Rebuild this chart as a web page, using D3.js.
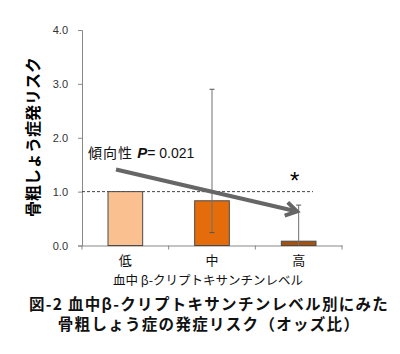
<!DOCTYPE html>
<html>
<head>
<meta charset="utf-8">
<script src="https://cdn.jsdelivr.net/npm/d3@7"></script>
<style>
  body { margin: 0; background: #fff; }
  text { font-family: "Noto Sans CJK JP", "DejaVu Sans", sans-serif; }
</style>
</head>
<body>
<svg id="chart" width="400" height="354"></svg>
<script>
const categories = ['低', '中', '高'];
const oddsRatio = [1.0, 0.83, 0.08];
const ciLow = [null, 0.24, 0];
const ciHigh = [null, 2.90, 0.75];
const barColors = ['#fac090', '#e46c0a', '#a5520c'];
const yTicks = [0, 1, 2, 3, 4];

const svg = d3.select('#chart');

const x = d3.scaleBand()
  .domain(categories)
  .range([82, 342])
  .paddingInner(0.6)
  .paddingOuter(0.3);

const y = d3.scaleLinear()
  .domain([0, 4])
  .range([245.5, 30]);

// y axis
const yAxis = svg.append('g')
  .attr('transform', 'translate(82,0)')
  .call(d3.axisLeft(y).tickValues(yTicks).tickSize(4).tickFormat(d3.format('.1f')));
yAxis.select('.domain').attr('stroke', '#888');
yAxis.selectAll('.tick line').attr('stroke', '#888');
yAxis.selectAll('.tick text')
  .attr('x', -14)
  .attr('fill', '#333')
  .style('font-family', 'Liberation Sans, Arial, sans-serif')
  .style('font-size', '11px');

// x axis
const xAxis = svg.append('g')
  .attr('transform', `translate(0,${y(0)})`)
  .call(d3.axisBottom(x).tickSize(0).tickFormat(''));
xAxis.select('.domain').attr('stroke', '#888');
xAxis.selectAll('.tick').remove();
const edges = [82].concat(categories.map(c => x(c) + x.bandwidth() + x.step() * x.paddingInner() / 2));
svg.selectAll('.xtick')
  .data(edges)
  .join('line')
  .attr('x1', d => d).attr('x2', d => d)
  .attr('y1', y(0)).attr('y2', y(0) + 4)
  .attr('stroke', '#888');

// reference line at 1.0
svg.append('line')
  .attr('x1', 82).attr('x2', 313)
  .attr('y1', y(1)).attr('y2', y(1))
  .attr('stroke', '#444')
  .attr('stroke-width', 1)
  .attr('stroke-dasharray', '3,2');

// bars
svg.selectAll('.bar')
  .data(categories)
  .join('rect')
  .attr('x', d => x(d))
  .attr('y', (d, i) => y(oddsRatio[i]))
  .attr('width', x.bandwidth())
  .attr('height', (d, i) => y(0) - y(oddsRatio[i]))
  .attr('fill', (d, i) => barColors[i])
  .attr('stroke', '#4a4a4a')
  .attr('stroke-width', 1);

// error bars
const errData = categories.map((c, i) => ({ c, lo: ciLow[i], hi: ciHigh[i] })).filter(d => d.hi != null);
const eb = svg.selectAll('.err').data(errData).join('g');
eb.append('line')
  .attr('x1', d => x(d.c) + x.bandwidth() / 2)
  .attr('x2', d => x(d.c) + x.bandwidth() / 2)
  .attr('y1', d => y(d.lo)).attr('y2', d => y(d.hi))
  .attr('stroke', '#707070').attr('stroke-width', 1);
eb.append('line')
  .attr('x1', d => x(d.c) + x.bandwidth() / 2 - 2.5)
  .attr('x2', d => x(d.c) + x.bandwidth() / 2 + 2.5)
  .attr('y1', d => y(d.hi)).attr('y2', d => y(d.hi))
  .attr('stroke', '#555');
eb.filter(d => d.lo > 0).append('line')
  .attr('x1', d => x(d.c) + x.bandwidth() / 2 - 2.5)
  .attr('x2', d => x(d.c) + x.bandwidth() / 2 + 2.5)
  .attr('y1', d => y(d.lo)).attr('y2', d => y(d.lo))
  .attr('stroke', '#555');

// trend arrow
const ax1 = 116, ay1 = 169.5, ax2 = 297, ay2 = 211.5;
svg.append('line')
  .attr('x1', ax1).attr('y1', ay1)
  .attr('x2', ax2 - 2).attr('y2', ay2 - 0.5)
  .attr('stroke', '#666')
  .attr('stroke-width', 4);
const ang = Math.atan2(ay2 - ay1, ax2 - ax1);
const hl = 13, hw = 0.55;
svg.append('path')
  .attr('d', `M${ax2 - hl * Math.cos(ang - hw)},${ay2 - hl * Math.sin(ang - hw)} L${ax2},${ay2} L${ax2 - hl * Math.cos(ang + hw)},${ay2 - hl * Math.sin(ang + hw)}`)
  .attr('fill', 'none')
  .attr('stroke', '#666')
  .attr('stroke-width', 4)
  .attr('stroke-linejoin', 'miter');

// trend label
const tl = svg.append('text')
  .attr('x', 88).attr('y', 158)
  .attr('fill', '#111')
  .style('font-size', '14px');
tl.append('tspan').text('傾向性 ').style('letter-spacing', '1px');
tl.append('tspan').text('P')
  .style('font-family', 'Liberation Sans, Arial, sans-serif')
  .style('font-size', '15px')
  .style('font-weight', 'bold').style('font-style', 'italic');
tl.append('tspan').text('= 0.021')
  .style('font-family', 'Liberation Sans, Arial, sans-serif');

// significance mark
svg.append('text')
  .attr('x', x('高') + x.bandwidth() / 2 - 4)
  .attr('y', 189)
  .attr('text-anchor', 'middle')
  .style('font-family', 'Liberation Sans, Arial, sans-serif')
  .style('font-size', '24px')
  .text('*');

// category labels
svg.selectAll('.cat')
  .data(categories)
  .join('text')
  .attr('x', d => x(d) + x.bandwidth() / 2)
  .attr('y', 265)
  .attr('text-anchor', 'middle')
  .attr('fill', '#111')
  .style('font-size', '13px')
  .text(d => d);

// x axis title
svg.append('text')
  .attr('x', 208).attr('y', 285)
  .attr('text-anchor', 'middle')
  .attr('fill', '#111')
  .style('font-size', '12.5px')
  .text('血中 β-クリプトキサンチンレベル');

// y axis title
svg.append('text')
  .attr('transform', 'translate(39,137) rotate(-90)')
  .attr('text-anchor', 'middle')
  .attr('fill', '#000')
  .style('font-size', '16px')
  .style('font-weight', 'bold')
  .text('骨粗しょう症発リスク');

// caption
const caption = ['図-2 血中β-クリプトキサンチンレベル別にみた', '骨粗しょう症の発症リスク（オッズ比）'];
svg.selectAll('.cap')
  .data(caption)
  .join('text')
  .attr('x', 209)
  .attr('y', (d, i) => 310 + i * 20)
  .attr('text-anchor', 'middle')
  .attr('fill', '#111')
  .style('font-size', '15.5px')
  .style('letter-spacing', '1.3px')
  .style('font-weight', 'bold')
  .text(d => d);
</script>
</body>
</html>
